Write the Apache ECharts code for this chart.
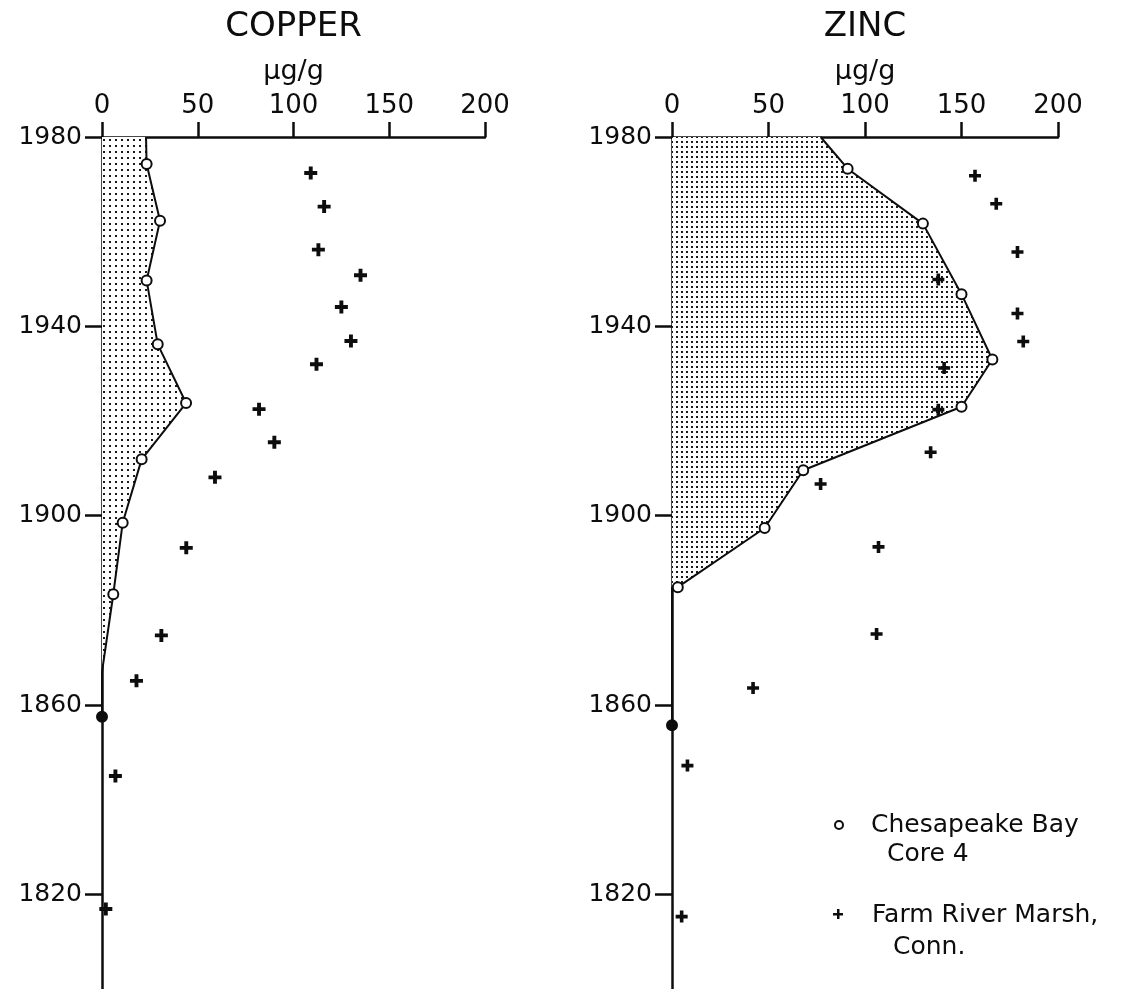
<!DOCTYPE html>
<html>
<head>
<meta charset="utf-8">
<script src="https://cdn.jsdelivr.net/npm/echarts@6/dist/echarts.min.js"></script>
<style>
  html, body { margin: 0; padding: 0; background: #fff; }
  #chart { width: 1125px; height: 989px; }
</style>
</head>
<body>
<div id="chart"></div>
<script>
// Concentration axis (µg/g) and depth-date axis (year)
const xTicks = [0, 50, 100, 150, 200];
const yTicks = [1820, 1860, 1900, 1940, 1980];
const yMin = 1800;
const yMax = 1980;

// COPPER — Chesapeake Bay Core 4 (open circles, stippled profile)
const cuBayYears  = [1974.3, 1962.3, 1949.7, 1936.2, 1923.8, 1911.9, 1898.5, 1883.4, 1857.5];
const cuBayValues = [23.3, 30.3, 23.3, 29.1, 43.9, 20.7, 10.8, 5.9, 0];
const cuBayTop = 23;        // profile value at the core top (1980)
const cuBayZeroYear = 1867; // where the profile meets zero

// COPPER — Farm River Marsh, Conn. (crosses)
const cuMarshYears  = [1972.4, 1965.3, 1956.2, 1950.8, 1944.1, 1936.9, 1932.0, 1922.5, 1915.5, 1908.1, 1893.2, 1874.7, 1865.1, 1845.0, 1816.9];
const cuMarshValues = [109, 116, 113, 135, 125, 130, 112, 82, 90, 59, 44, 31, 18, 7, 2];

// ZINC — Chesapeake Bay Core 4
const znBayYears  = [1973.3, 1961.7, 1946.8, 1933.0, 1923.0, 1909.6, 1897.4, 1884.9, 1855.7];
const znBayValues = [91, 130, 150, 166, 150, 68, 48, 3, 0];
const znBayTop = 77;
const znBayZeroYear = 1884.9;

// ZINC — Farm River Marsh, Conn.
const znMarshYears  = [1971.8, 1965.9, 1955.7, 1949.9, 1942.7, 1936.8, 1931.2, 1922.4, 1913.4, 1906.7, 1893.4, 1875.0, 1863.6, 1847.2, 1815.3];
const znMarshValues = [157, 168, 179, 138, 179, 182, 141, 138, 134, 77, 107, 106, 42, 8, 5];

const panelTitles = ['COPPER', 'ZINC'];
const unitLabel = 'µg/g';
const legendBay = ['Chesapeake Bay', 'Core 4'];
const legendMarsh = ['Farm River Marsh,', 'Conn.'];

const FONT = 'DejaVu Sans';
const INK = '#0d0d0d';

// Dot-screen fill for the profile areas
function dotScreen(step) {
  const c = document.createElement('canvas');
  c.width = step; c.height = step;
  const g = c.getContext('2d');
  g.fillStyle = '#fff';
  g.fillRect(0, 0, step, step);
  g.fillStyle = '#1a1a1a';
  g.fillRect(1, 1, 2, 2);
  return { image: c, repeat: 'repeat' };
}

const CROSS = 'path://M3.5,0H6.5V3.5H10V6.5H6.5V10H3.5V6.5H0V3.5H3.5Z';

const panels = [
  { left: 102, width: 383, bayYears: cuBayYears, bayValues: cuBayValues, top: cuBayTop, zero: cuBayZeroYear,
    marshYears: cuMarshYears, marshValues: cuMarshValues, dots: dotScreen(6), cross: 13 },
  { left: 672, width: 386, bayYears: znBayYears, bayValues: znBayValues, top: znBayTop, zero: znBayZeroYear,
    marshYears: znMarshYears, marshValues: znMarshValues, dots: dotScreen(5), cross: 12 }
];

const grids = [], xAxes = [], yAxes = [], series = [];

panels.forEach((p, i) => {
  grids.push({ left: p.left, width: p.width, top: 137, height: 856 });
  xAxes.push({
    gridIndex: i, type: 'value', position: 'top', min: 0, max: 200, interval: 50,
    axisLine: { show: true, onZero: false, lineStyle: { color: INK, width: 2.5 } },
    axisTick: { show: true, length: 15, lineStyle: { color: INK, width: 2.5 } },
    axisLabel: { margin: 18, color: INK, fontFamily: FONT, fontSize: 26 },
    splitLine: { show: false }
  });
  yAxes.push({
    gridIndex: i, type: 'value', min: yMin, max: yMax,
    axisLine: { show: true, onZero: false, lineStyle: { color: INK, width: 2.5 } },
    axisTick: { show: true, length: 17, customValues: yTicks, lineStyle: { color: INK, width: 2.5 } },
    axisLabel: { margin: 20, customValues: yTicks, formatter: v => String(v), color: INK, fontFamily: FONT, fontSize: 25 },
    splitLine: { show: false }
  });

  // stippled area between the zero axis and the core profile
  series.push({
    type: 'custom', xAxisIndex: i, yAxisIndex: i, data: [0], silent: true, z: 1,
    renderItem(params, api) {
      const pts = [api.coord([p.top, yMax])];
      p.bayValues.forEach((v, k) => {
        if (p.bayYears[k] >= p.zero) pts.push(api.coord([v, p.bayYears[k]]));
      });
      pts.push(api.coord([0, p.zero]));
      pts.push(api.coord([0, yMax]));
      return { type: 'polygon', shape: { points: pts }, style: { fill: p.dots, stroke: null } };
    }
  });

  // profile outline with open-circle samples
  const lineData = [{ value: [p.top, yMax], symbol: 'none' }];
  p.bayValues.forEach((v, k) => {
    if (p.bayYears[k] >= p.zero) lineData.push([v, p.bayYears[k]]);
  });
  lineData.push({ value: [0, p.zero], symbol: 'none' });
  p.bayValues.forEach((v, k) => {
    if (p.bayYears[k] < p.zero) {
      lineData.push({ value: [v, p.bayYears[k]], itemStyle: { color: INK } });
    }
  });
  series.push({
    name: 'Chesapeake Bay Core 4', type: 'line', xAxisIndex: i, yAxisIndex: i, z: 3,
    data: lineData, symbol: 'circle', symbolSize: 10, showSymbol: true,
    itemStyle: { color: '#fff', borderColor: INK, borderWidth: 2 },
    lineStyle: { color: INK, width: 2 },
    emphasis: { disabled: true }, silent: true
  });

  // marsh samples
  series.push({
    name: 'Farm River Marsh, Conn.', type: 'scatter', xAxisIndex: i, yAxisIndex: i, z: 4,
    data: p.marshValues.map((v, k) => [v, p.marshYears[k]]),
    symbol: CROSS, symbolSize: p.cross, itemStyle: { color: INK, opacity: 1 },
    emphasis: { disabled: true }, silent: true
  });
});

const centers = [102 + 383 / 2, 672 + 386 / 2];
const graphics = [];
panelTitles.forEach((t, i) => {
  graphics.push({ type: 'text', x: centers[i], y: 27, style: { text: t, fill: INK, font: '34px "' + FONT + '"', align: 'center', verticalAlign: 'middle' } });
  graphics.push({ type: 'text', x: centers[i], y: 72, style: { text: unitLabel, fill: INK, font: '27px "' + FONT + '"', align: 'center', verticalAlign: 'middle' } });
});

// key
graphics.push({ type: 'circle', shape: { cx: 839, cy: 825, r: 4 }, style: { fill: '#fff', stroke: INK, lineWidth: 2 } });
graphics.push({ type: 'text', x: 871, y: 825, style: { text: legendBay[0], fill: INK, font: '25px "' + FONT + '"', verticalAlign: 'middle' } });
graphics.push({ type: 'text', x: 887, y: 854, style: { text: legendBay[1], fill: INK, font: '25px "' + FONT + '"', verticalAlign: 'middle' } });
graphics.push({ type: 'rect', shape: { x: 838 - 5, y: 914 - 1, width: 10, height: 2.5 }, style: { fill: INK } });
graphics.push({ type: 'rect', shape: { x: 838 - 1, y: 914 - 5, width: 2.5, height: 10 }, style: { fill: INK } });
graphics.push({ type: 'text', x: 872, y: 915, style: { text: legendMarsh[0], fill: INK, font: '25px "' + FONT + '"', verticalAlign: 'middle' } });
graphics.push({ type: 'text', x: 893, y: 947, style: { text: legendMarsh[1], fill: INK, font: '25px "' + FONT + '"', verticalAlign: 'middle' } });

const chart = echarts.init(document.getElementById('chart'), null, { renderer: 'canvas' });
chart.setOption({
  backgroundColor: '#fff',
  animation: false,
  grid: grids,
  xAxis: xAxes,
  yAxis: yAxes,
  series: series,
  graphic: graphics
});
</script>
</body>
</html>
